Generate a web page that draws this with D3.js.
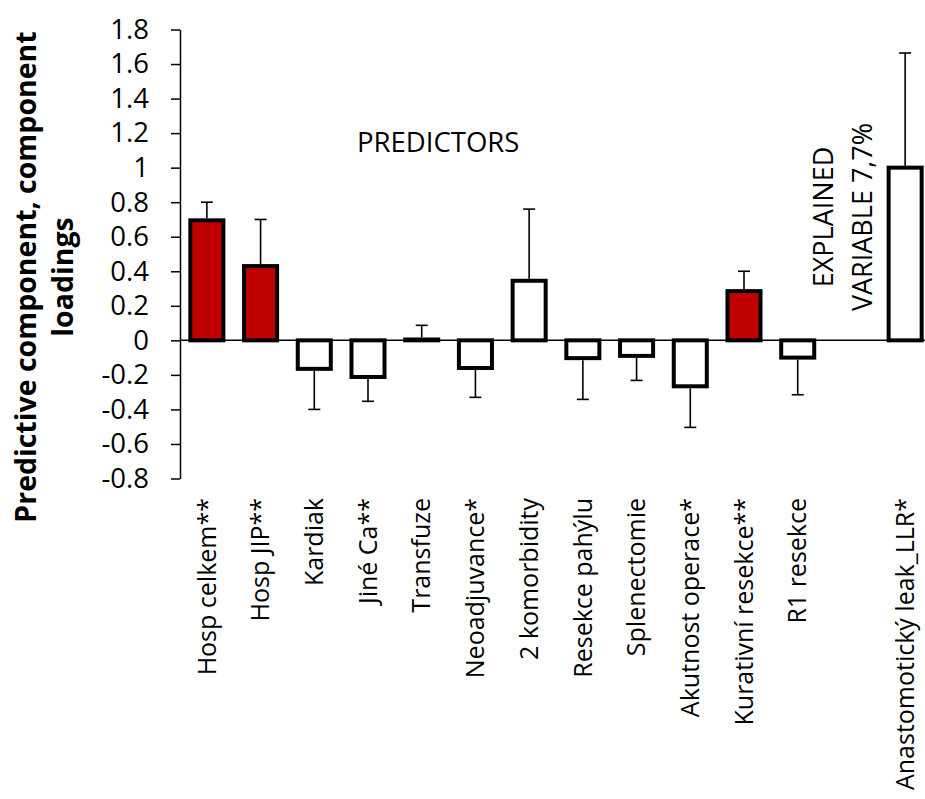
<!DOCTYPE html>
<html>
<head>
<meta charset="utf-8">
<script src="https://cdn.jsdelivr.net/npm/d3@7"></script>
<style>
    html, body { margin: 0; padding: 0; background: #fff; }
    svg { display: block; }
</style>
</head>
<body>
<div id="chart"></div>
<script>
'use strict';

// categories (blank slot before the explained variable)
const categories = [
    'Hosp celkem**', 'Hosp JIP**', 'Kardiak', 'Jiné Ca**', 'Transfuze',
    'Neoadjuvance*', '2 komorbidity', 'Resekce pahýlu', 'Splenectomie',
    'Akutnost operace*', 'Kurativní resekce**', 'R1 resekce', '', 'Anastomotický leak_LLR*',
];
const loadings = [0.695, 0.43, -0.165, -0.212, 0.005, -0.16, 0.345, -0.103, -0.09, -0.266, 0.285, -0.1, null, 1.0];
const errors = [0.105, 0.27, 0.235, 0.141, 0.082, 0.17, 0.415, 0.239, 0.142, 0.238, 0.115, 0.215, null, 0.664];
const highlighted = [true, true, false, false, false, false, false, false, false, false, true, false, false, false];
const yTicks = [-0.8, -0.6, -0.4, -0.2, 0, 0.2, 0.4, 0.6, 0.8, 1, 1.2, 1.4, 1.6, 1.8];
const yTickLabels = ['-0.8', '-0.6', '-0.4', '-0.2', '0', '0.2', '0.4', '0.6', '0.8', '1', '1.2', '1.4', '1.6', '1.8'];
const yTitleLines = ['Predictive component, component', 'loadings'];
const predictorsLabel = 'PREDICTORS';
const explainedLines = ['EXPLAINED', 'VARIABLE 7,7%'];

class LoadingsChart {
    constructor() {
        this.width = 925;
        this.height = 799;
        this.font = '"Open Sans", Lato, sans-serif';
        this.xScale = d3.scaleBand()
            .domain(categories.map((c, i) => i))
            .range([180, 932])
            .paddingInner(0.385)
            .paddingOuter(0.1925);
        this.yScale = d3.scaleLinear()
            .domain([-0.8, 1.8])
            .range([478.5, 29.5]);
    }

    draw() {
        this.svg = d3.select('#chart')
            .append('svg')
            .attr('width', this.width)
            .attr('height', this.height);
        this.drawAxis();
        this.drawBars();
        this.drawErrorBars();
        this.drawLabels();
    }

    drawAxis() {
        const yAxis = this.svg.append('g')
            .attr('class', 'y-axis')
            .attr('transform', 'translate(180,0)')
            .call(d3.axisLeft(this.yScale)
                .tickValues(yTicks)
                .tickSize(9)
                .tickSizeOuter(0)
                .tickPadding(22)
                .tickFormat((d, i) => yTickLabels[i]));
        yAxis.select('.domain').attr('stroke', '#000').attr('stroke-width', 1.5);
        yAxis.selectAll('.tick line').attr('stroke', '#000').attr('stroke-width', 1.5);
        yAxis.selectAll('.tick text')
            .attr('fill', '#000')
            .attr('font-family', this.font)
            .attr('font-size', 27.5);

        // zero line
        this.svg.append('line')
            .attr('x1', 180).attr('x2', this.width)
            .attr('y1', this.yScale(0)).attr('y2', this.yScale(0))
            .attr('stroke', '#000')
            .attr('stroke-width', 1.5);
    }

    drawBars() {
        const data = categories.map((c, i) => ({ i, v: loadings[i], hl: highlighted[i] }))
            .filter((d) => d.v !== null);
        this.svg.append('g')
            .selectAll('rect')
            .data(data)
            .join('rect')
            .attr('x', (d) => this.xScale(d.i))
            .attr('width', this.xScale.bandwidth())
            .attr('y', (d) => this.yScale(Math.max(0, d.v)))
            .attr('height', (d) => Math.abs(this.yScale(d.v) - this.yScale(0)))
            .attr('fill', (d) => (d.hl ? '#C00000' : '#fff'))
            .attr('stroke', '#000')
            .attr('stroke-width', 4);
    }

    drawErrorBars() {
        const capHalf = 6;
        const data = categories.map((c, i) => ({ i, v: loadings[i], e: errors[i] }))
            .filter((d) => d.v !== null);
        const g = this.svg.append('g').attr('stroke', '#000').attr('stroke-width', 1.6);
        data.forEach((d) => {
            const cx = this.xScale(d.i) + this.xScale.bandwidth() / 2;
            const end = d.v >= 0 ? d.v + d.e : d.v - d.e;
            g.append('line')
                .attr('x1', cx).attr('x2', cx)
                .attr('y1', this.yScale(d.v) + (d.v >= 0 ? -2 : 2))
                .attr('y2', this.yScale(end));
            g.append('line')
                .attr('x1', cx - capHalf).attr('x2', cx + capHalf)
                .attr('y1', this.yScale(end)).attr('y2', this.yScale(end));
        });
    }

    drawLabels() {
        // category labels, rotated
        this.svg.append('g')
            .selectAll('text')
            .data(categories.map((c, i) => ({ c, i })).filter((d) => d.c !== ''))
            .join('text')
            .attr('transform', (d) => `translate(${this.xScale(d.i) + this.xScale.bandwidth() / 2},498) rotate(-90)`)
            .attr('dy', '0.35em')
            .attr('text-anchor', 'end')
            .attr('font-family', this.font)
            .attr('font-size', 25)
            .attr('fill', '#000')
            .text((d) => d.c);

        // y axis title
        const title = this.svg.append('text')
            .attr('transform', 'translate(0,277) rotate(-90)')
            .attr('text-anchor', 'middle')
            .attr('font-family', this.font)
            .attr('font-weight', 'bold')
            .attr('font-size', 28.5)
            .attr('fill', '#000');
        yTitleLines.forEach((line, i) => {
            title.append('tspan')
                .attr('x', 0)
                .attr('y', 36 + i * 37)
                .text(line);
        });

        this.svg.append('text')
            .attr('x', 357)
            .attr('y', 152)
            .attr('font-family', this.font)
            .attr('font-size', 27.5)
            .attr('fill', '#000')
            .text(predictorsLabel);

        const explained = this.svg.append('text')
            .attr('transform', 'translate(0,217) rotate(-90)')
            .attr('text-anchor', 'middle')
            .attr('font-family', this.font)
            .attr('font-size', 27)
            .attr('fill', '#000');
        explainedLines.forEach((line, i) => {
            explained.append('tspan')
                .attr('x', 0)
                .attr('y', 833 + i * 39)
                .text(line);
        });
    }
}

new LoadingsChart().draw();
</script>
</body>
</html>
